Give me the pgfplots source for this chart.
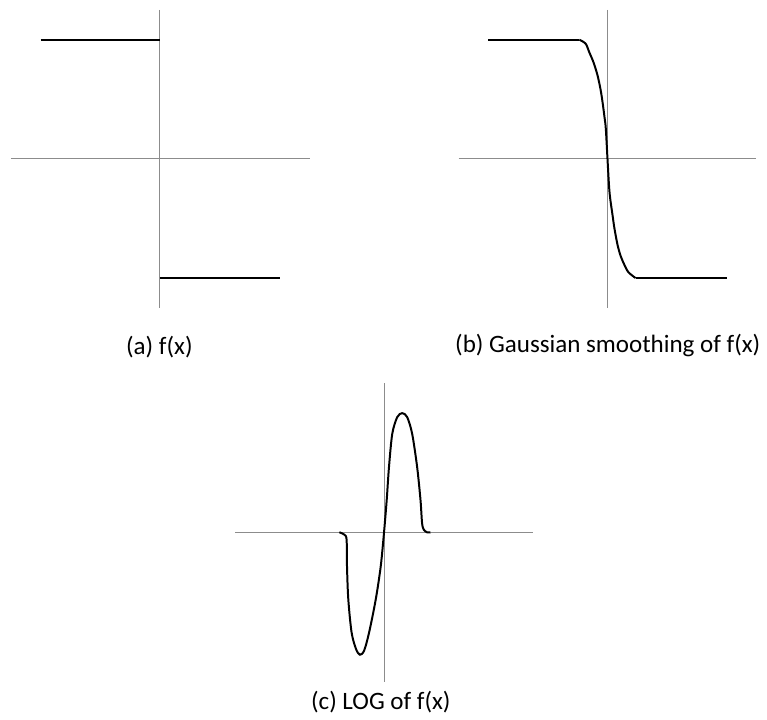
\documentclass[border=0pt]{standalone}
\usepackage{pgfplots}
\pgfplotsset{compat=1.18}
\usepackage{fontspec}
\setmainfont{Carlito}
\definecolor{axgray}{RGB}{140,140,140}
\begin{document}
\begin{tikzpicture}
\begin{axis}[
  scale only axis, width=383.5pt, height=360.5pt,
  xmin=0, xmax=767, ymin=0, ymax=721,
  hide axis, clip=false,
]
\path (rel axis cs:0,0) rectangle (rel axis cs:1,1);
% panel a axes
\addplot[axgray, line width=0.5pt] coordinates {(11,561) (312,561)};
\addplot[axgray, line width=0.5pt] coordinates {(161,711) (161,411)};
\addplot[black, line width=1pt] coordinates {(41,681) (161,681)};
\addplot[black, line width=1pt] coordinates {(161,441) (282,441)};
% panel b axes
\addplot[axgray, line width=0.5pt] coordinates {(461.7,561) (761.7,561)};
\addplot[axgray, line width=0.5pt] coordinates {(611.7,711) (611.7,411)};
\addplot[black, line width=1pt] coordinates {(491.7,681) (583.4,681)};
\addplot[black, line width=1pt, smooth, tension=0.5] coordinates {
(583.4,681) (589.7,677) (593.4,668.3) (597.7,658) (601.7,645) (604.7,631)
(606.7,618.3) (608.7,603) (610,591.7) (611.7,561) (613.4,531.7) (614.7,519)
(616.7,505) (618.7,491) (621.7,475) (624.7,464) (628.4,455) (632.7,447) (640,441)};
\addplot[black, line width=1pt] coordinates {(640,441) (731.7,441)};
% panel c axes
\addplot[axgray, line width=0.5pt] coordinates {(236.7,185) (536.7,185)};
\addplot[axgray, line width=0.5pt] coordinates {(386.7,335) (386.7,34)};
\addplot[black, line width=1pt, smooth, tension=0.5] coordinates {
(341.7,185) (346.7,182.7) (349,177.7) (349.4,151) (350.7,117.7) (354,84.3)
(358.4,67.7) (362.4,61.7) (366.7,66) (371.7,84.3) (378.4,117.7) (383.4,151)
(386.7,185) (389.4,217.7) (391.7,251) (395,284.3) (400,301) (405,305)
(410,301) (415,284.3) (420,251) (423.4,217.7) (425,194.3) (426.7,187.7)
(430,185) (433.4,185)};
% labels
\node[font=\fontsize{12.6pt}{15pt}\selectfont] at (axis cs:160.5,372) {(a) f(x)};
\node[font=\fontsize{12.6pt}{15pt}\selectfont] at (axis cs:612,373) {(b) Gaussian smoothing of f(x)};
\node[font=\fontsize{12.6pt}{15pt}\selectfont] at (axis cs:383.5,14) {(c) LOG of f(x)};
\end{axis}
\end{tikzpicture}
\end{document}
